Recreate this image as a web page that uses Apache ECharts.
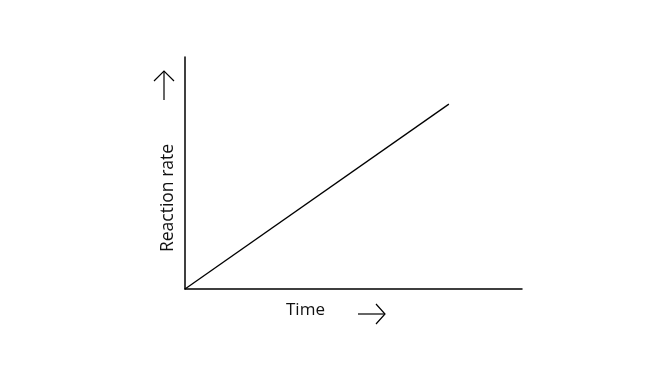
<!DOCTYPE html>
<html><head><meta charset="utf-8">
<script src="https://cdn.jsdelivr.net/npm/echarts@6/dist/echarts.min.js"></script>
<style>html,body{margin:0;padding:0;background:#fff}#c{width:666px;height:374px}</style>
</head><body><div id="c"></div>
<script>
const timeValues = [0, 7.83];
const rateValues = [0, 7.97];
const xLabel = 'Time';
const yLabel = 'Reaction rate';

const chart = echarts.init(document.getElementById('c'));
const font = '"Open Sans", sans-serif';
const arrowStyle = {stroke: '#000', lineWidth: 1.2, fill: null};
chart.setOption({
  animation: false,
  backgroundColor: '#fff',
  grid: {left: 185, top: 57, right: 144, bottom: 85},
  xAxis: {type: 'value', min: 0, max: 10, axisLine: {show: true, lineStyle: {color: '#000', width: 1.5}},
    axisTick: {show: false}, axisLabel: {show: false}, splitLine: {show: false}},
  yAxis: {type: 'value', min: 0, max: 10, axisLine: {show: true, lineStyle: {color: '#000', width: 1.5}},
    axisTick: {show: false}, axisLabel: {show: false}, splitLine: {show: false}},
  series: [{type: 'line', data: timeValues.map((t, i) => [t, rateValues[i]]), symbol: 'none',
    lineStyle: {color: '#000', width: 1.3}}],
  graphic: [
    {type: 'text', left: 286, top: 302, style: {text: xLabel, font: '17px ' + font, fill: '#111'}},
    {type: 'text', x: 168, y: 198, rotation: Math.PI / 2, style: {text: yLabel, font: '17.5px ' + font, fill: '#111', align: 'center', verticalAlign: 'middle'}},
    {type: 'polyline', shape: {points: [[358, 314], [385, 314]]}, style: arrowStyle},
    {type: 'polyline', shape: {points: [[376, 304], [385, 314], [376, 324]]}, style: arrowStyle},
    {type: 'polyline', shape: {points: [[164, 100], [164, 71]]}, style: arrowStyle},
    {type: 'polyline', shape: {points: [[154, 81], [164, 71], [174, 81]]}, style: arrowStyle}
  ]
});
</script></body></html>
